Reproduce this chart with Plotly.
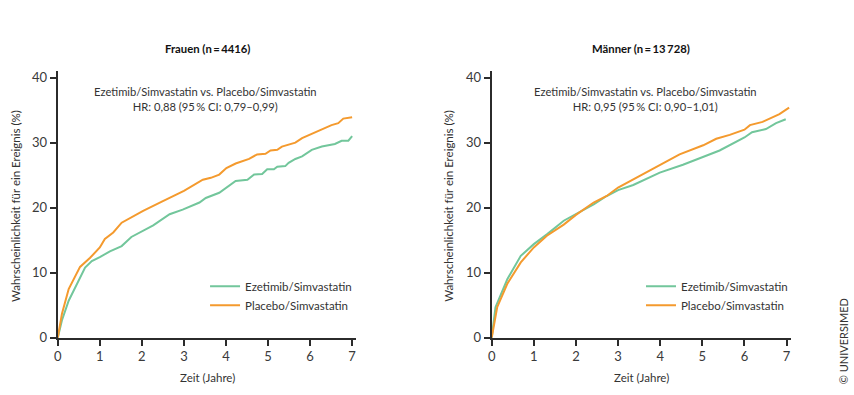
import plotly.graph_objects as go

# ---------------- data ----------------
frauen_eze_x = [0, 0.1, 0.26, 0.46, 0.65, 0.81, 1.0, 1.24, 1.52, 1.75, 2.03, 2.27, 2.66, 2.97, 3.37, 3.52, 3.84,
                4.23, 4.51, 4.67, 4.86, 4.98, 5.14, 5.22, 5.41, 5.49, 5.65, 5.81, 6.04, 6.28, 6.59, 6.75, 6.91, 7.0]
frauen_eze_y = [0, 2.7, 5.7, 8.3, 10.8, 11.8, 12.4, 13.3, 14.1, 15.5, 16.5, 17.3, 19.0, 19.7, 20.8, 21.5, 22.3,
                24.1, 24.3, 25.1, 25.2, 25.9, 25.9, 26.3, 26.4, 26.9, 27.5, 27.9, 28.9, 29.4, 29.8, 30.3, 30.3, 31.0]

frauen_pla_x = [0, 0.1, 0.26, 0.53, 0.77, 1.0, 1.12, 1.32, 1.52, 2.03, 2.5, 3.0, 3.45, 3.64, 3.84, 4.01, 4.23,
                4.55, 4.74, 4.94, 5.06, 5.22, 5.33, 5.65, 5.81, 6.2, 6.51, 6.67, 6.79, 7.0]
frauen_pla_y = [0, 3.7, 7.5, 10.9, 12.3, 13.9, 15.2, 16.2, 17.7, 19.5, 21.0, 22.6, 24.3, 24.6, 25.1, 26.1, 26.8,
                27.5, 28.2, 28.3, 28.8, 28.9, 29.4, 30.0, 30.7, 31.8, 32.7, 33.0, 33.7, 33.9]

maenner_eze_x = [0, 0.09, 0.37, 0.69, 1.0, 1.31, 1.71, 2.0, 2.42, 2.73, 3.0, 3.36, 3.99, 4.54, 5.02, 5.41,
                 6.0, 6.18, 6.51, 6.75, 6.98]
maenner_eze_y = [0, 4.7, 9.0, 12.6, 14.4, 15.9, 18.0, 19.0, 20.5, 21.8, 22.7, 23.5, 25.4, 26.6, 27.8, 28.8,
                 30.8, 31.6, 32.1, 33.0, 33.6]

maenner_pla_x = [0, 0.13, 0.37, 0.69, 1.0, 1.31, 1.71, 2.0, 2.42, 2.73, 3.0, 3.28, 3.68, 3.99, 4.46, 5.02,
                 5.33, 5.65, 6.0, 6.13, 6.43, 6.83, 7.06]
maenner_pla_y = [0, 4.7, 8.3, 11.6, 13.9, 15.7, 17.4, 18.9, 20.8, 21.8, 23.1, 24.1, 25.4, 26.6, 28.2, 29.6,
                 30.6, 31.2, 32.0, 32.7, 33.2, 34.4, 35.4]

x_ticks = [0, 1, 2, 3, 4, 5, 6, 7]
y_ticks = [0, 10, 20, 30, 40]

titles = ["Frauen (n\u2009=\u20094416)", "Männer (n\u2009=\u200913\u2009728)"]
hr_texts = ["Ezetimib/Simvastatin vs. Placebo/Simvastatin<br>HR: 0,88 (95\u2009% CI: 0,79\u20130,99)",
            "Ezetimib/Simvastatin vs. Placebo/Simvastatin<br>HR: 0,95 (95\u2009% CI: 0,90\u20131,01)"]
series_names = ["Ezetimib/Simvastatin", "Placebo/Simvastatin"]
x_title = "Zeit (Jahre)"
y_title = "Wahrscheinlichkeit für ein Ereignis (%)"
copyright_text = "© UNIVERSIMED"

# ---------------- style ----------------
GREEN = "#72c69b"
ORANGE = "#f49a2e"
TXT = "#333333"
FONT = "Lato"

fig = go.Figure()

panels = [
    (frauen_eze_x, frauen_eze_y, frauen_pla_x, frauen_pla_y, "x", "y", "legend"),
    (maenner_eze_x, maenner_eze_y, maenner_pla_x, maenner_pla_y, "x2", "y2", "legend2"),
]
for ex, ey, px, py, xa, ya, lg in panels:
    fig.add_trace(go.Scatter(x=ex, y=ey, mode="lines", name=series_names[0],
                             line=dict(color=GREEN, width=2), xaxis=xa, yaxis=ya, legend=lg))
    fig.add_trace(go.Scatter(x=px, y=py, mode="lines", name=series_names[1],
                             line=dict(color=ORANGE, width=2), xaxis=xa, yaxis=ya, legend=lg))

# positions are expressed as fractions of an 854 x 395 frame
W, H = 854, 395
FIG_H = 403
dom_left = [54 / W, 354 / W]
dom_right = [490 / W, 790.5 / W]
ydom = [(H - 337.5) / H, (H - 69.5) / H]

axis_common = dict(showline=True, linecolor="#2b2b2b", linewidth=2, ticks="outside", ticklen=6,
                   tickwidth=1.5, tickcolor="#2b2b2b", showgrid=False, zeroline=False,
                   tickfont=dict(family=FONT, size=13, color="#3a3a3a"))

legend_common = dict(xanchor="left", yanchor="top", bgcolor="rgba(0,0,0,0)",
                     font=dict(family=FONT, size=11.5, color=TXT), tracegroupgap=0, itemwidth=30)

fig.update_layout(
    width=W, height=FIG_H,
    margin=dict(l=0, r=0, t=0, b=0),
    paper_bgcolor="white", plot_bgcolor="white",
    font=dict(family=FONT, color=TXT),
    xaxis=dict(domain=dom_left, range=[0, 7.1], tickvals=x_ticks, anchor="y", **axis_common),
    yaxis=dict(domain=ydom, range=[0, 41], tickvals=y_ticks, anchor="x", **axis_common),
    xaxis2=dict(domain=dom_right, range=[0, 7.1], tickvals=x_ticks, anchor="y2", **axis_common),
    yaxis2=dict(domain=ydom, range=[0, 41], tickvals=y_ticks, anchor="x2", **axis_common),
    legend=dict(x=202 / W, y=(H - 271) / H, **legend_common),
    legend2=dict(x=640 / W, y=(H - 271) / H, **legend_common),
    showlegend=True,
)

centers = [(54 + 354) / 2 / W, (490 + 790.5) / 2 / W]
anns = []
for i, c in enumerate(centers):
    anns.append(dict(text="<b>" + titles[i] + "</b>", x=c, y=(H - 47) / H, xref="paper", yref="paper",
                     showarrow=False, font=dict(family=FONT, size=11.3, color="#111111"),
                     xanchor="center", yanchor="middle"))
    anns.append(dict(text=hr_texts[i], x=[202, 645][i] / W, y=(H - 97) / H, xref="paper", yref="paper",
                     showarrow=False, font=dict(family=FONT, size=11.2, color=TXT),
                     xanchor="center", yanchor="middle", align="center"))
    anns.append(dict(text=x_title, x=c, y=(H - 377) / H, xref="paper", yref="paper",
                     showarrow=False, font=dict(family=FONT, size=11.5, color=TXT),
                     xanchor="center", yanchor="middle"))
    anns.append(dict(text=y_title, x=[12, 447][i] / W, y=(H - 205) / H, xref="paper", yref="paper",
                     showarrow=False, textangle=-90, font=dict(family=FONT, size=11.5, color=TXT),
                     xanchor="center", yanchor="middle"))
anns.append(dict(text=copyright_text, x=843 / W, y=(H - 341) / H, xref="paper", yref="paper",
                 showarrow=False, textangle=-90, font=dict(family=FONT, size=11, color=TXT),
                 xanchor="center", yanchor="middle"))
fig.update_layout(annotations=anns)

fig.write_html("out.html", config={"displayModeBar": False, "responsive": False})

# remove the page margin so the figure sits at the window's top-left corner
css = ("<style>html,body{margin:0;padding:0;overflow:hidden;}"
       ".plotly-graph-div{position:absolute;top:0;left:0;}</style>")
with open("out.html", "r", encoding="utf-8") as f:
    html = f.read()
html = html.replace("<head>", "<head>" + css, 1)
with open("out.html", "w", encoding="utf-8") as f:
    f.write(html)
